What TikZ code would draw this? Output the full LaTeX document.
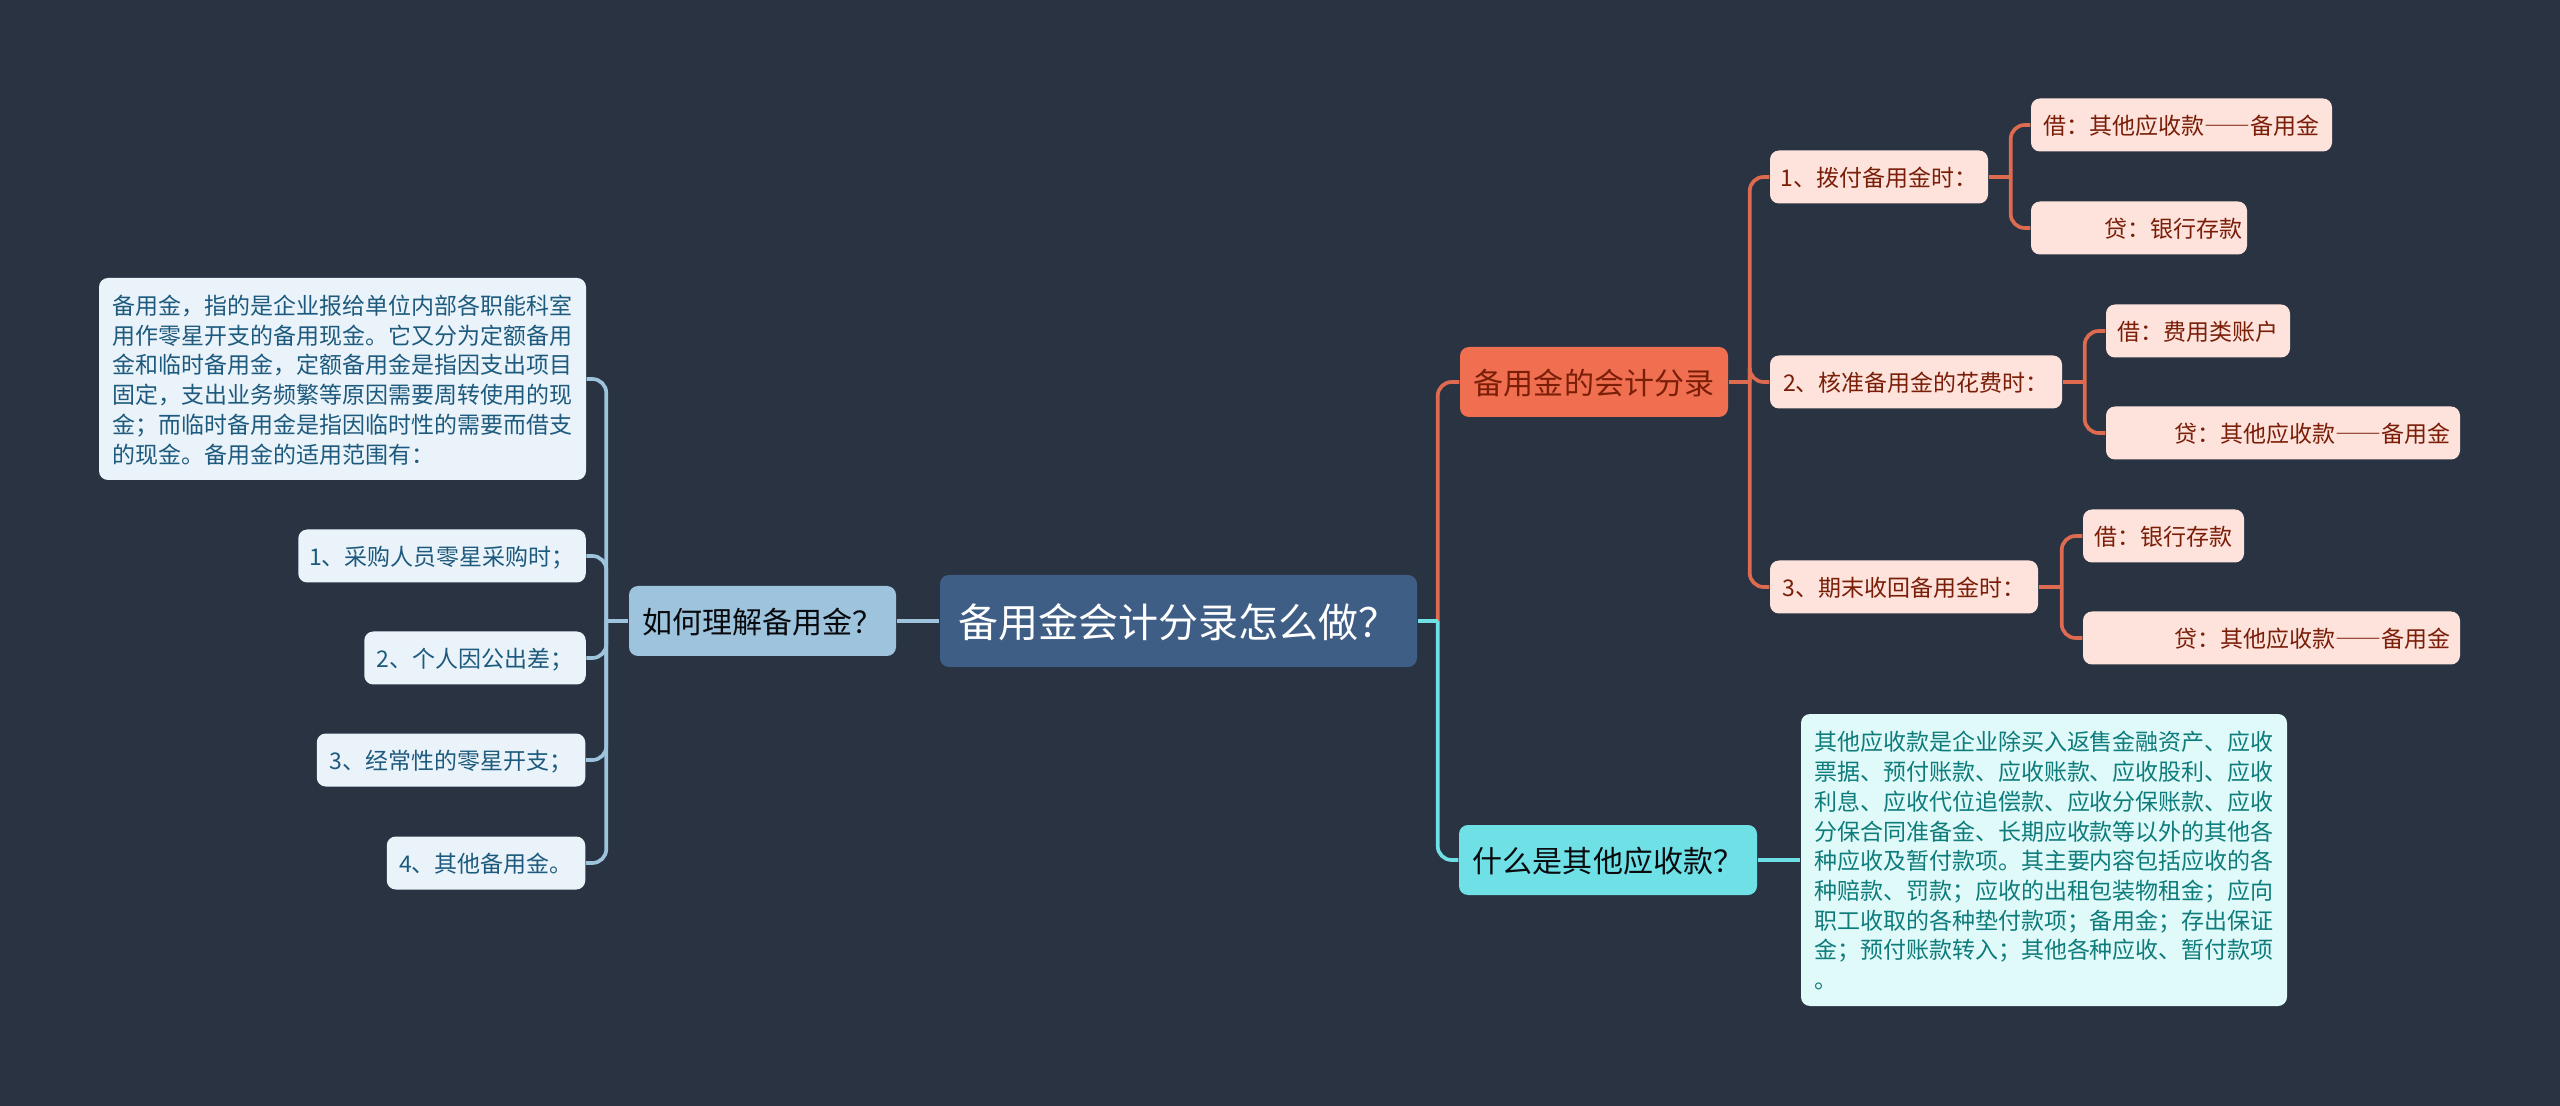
\documentclass[tikz,border=0pt]{standalone}
\usepackage{fontspec}
\setmainfont{Noto Sans CJK SC}
\newcommand{\cndou}{\symbol{"FF0C}}
\newcommand{\cnfen}{\symbol{"FF1B}}
\newcommand{\cnmao}{\symbol{"FF1A}}
\newcommand{\cnwen}{\symbol{"FF1F}}
\newcommand{\cndash}{{\addfontfeature{RawFeature=+fwid}——}}
\definecolor{bgdark}{HTML}{2A3342}
\definecolor{rootfill}{HTML}{3F5E85}
\definecolor{bluehead}{HTML}{9DC3DD}
\definecolor{blueleaf}{HTML}{EAF3F9}
\definecolor{bluetext}{HTML}{1D5A7E}
\definecolor{redhead}{HTML}{F06F50}
\definecolor{redleaf}{HTML}{FDE3DC}
\definecolor{redtext}{HTML}{7A1E08}
\definecolor{redline}{HTML}{DE6A50}
\definecolor{cyanhead}{HTML}{6EE0E6}
\definecolor{cyanleaf}{HTML}{E0F9F9}
\definecolor{cyantext}{HTML}{0F7C7C}
\tikzset{
	box/.style={rounded corners=0.09cm, inner sep=0pt, text depth=0pt},
	rootbox/.style={box, fill=rootfill, text=white, minimum width=4.77cm, minimum height=0.92cm, font=\fontsize{11.38}{14}\selectfont},
	headbox/.style={box, minimum height=0.70cm, font=\fontsize{8.54}{11}\selectfont},
	leafbox/.style={box, minimum height=0.53cm, font=\fontsize{6.54}{8.45}\selectfont},
	blueleafbox/.style={leafbox, fill=blueleaf, text=bluetext},
	redleafbox/.style={leafbox, fill=redleaf, text=redtext},
	link/.style={line width=1.05pt, rounded corners=0.14cm},
}
\begin{document}
\begin{tikzpicture}
	\useasboundingbox (0, 0) rectangle (25.6, 11.05);
	\fill[bgdark] (-0.1, -0.1) rectangle (25.7, 11.15);

	\node[rootbox] (root) at (11.785, 4.84) {备用金会计分录怎么做\cnwen};

	% left side
	\node[headbox, fill=bluehead, text=black!80!bgdark, minimum width=2.67cm] (lijie) at (7.625, 4.84) {如何理解备用金\cnwen};
	\node[blueleafbox, minimum width=4.87cm, minimum height=2.02cm, align=left] (dingyi) at (3.425, 7.26) {备用金\cndou{}指的是企业报给单位内部各职能科室\\用作零星开支的备用现金。它又分为定额备用\\金和临时备用金\cndou{}定额备用金是指因支出项目\\固定\cndou{}支出业务频繁等原因需要周转使用的现\\金\cnfen{}而临时备用金是指因临时性的需要而借支\\的现金。备用金的适用范围有\cnmao};
	\node[blueleafbox, minimum width=2.875cm] (caigou) at (4.42, 5.49) {1、采购人员零星采购时\cnfen};
	\node[blueleafbox, minimum width=2.215cm] (chuchai) at (4.75, 4.47) {2、个人因公出差\cnfen};
	\node[blueleafbox, minimum width=2.685cm] (kaizhi) at (4.51, 3.45) {3、经常性的零星开支\cnfen};
	\node[blueleafbox, minimum width=1.985cm] (qita) at (4.86, 2.42) {4、其他备用金。};

	% right side, upper branch
	\node[headbox, fill=redhead, text=redtext, minimum width=2.68cm] (fenlu) at (15.94, 7.23) {备用金的会计分录};
	\node[redleafbox, minimum width=2.18cm] (bofu) at (18.79, 9.28) {1、拨付备用金时\cnmao};
	\node[redleafbox, minimum width=3.01cm] (bofujie) at (21.815, 9.80) {借\cnmao{}其他应收款\cndash{}备用金};
	\node[redleafbox, text width=2.06cm, minimum width=2.16cm, align=right] (bofudai) at (21.39, 8.77) {贷\cnmao{}银行存款};
	\node[redleafbox, minimum width=2.92cm] (hezhun) at (19.16, 7.23) {2、核准备用金的花费时\cnmao};
	\node[redleafbox, minimum width=1.84cm] (hezhunjie) at (21.98, 7.74) {借\cnmao{}费用类账户};
	\node[redleafbox, text width=3.34cm, minimum width=3.54cm, align=right] (hezhundai) at (22.83, 6.72) {贷\cnmao{}其他应收款\cndash{}备用金};
	\node[redleafbox, minimum width=2.68cm] (shouhui) at (19.04, 5.18) {3、期末收回备用金时\cnmao};
	\node[redleafbox, minimum width=1.61cm] (shouhuijie) at (21.635, 5.69) {借\cnmao{}银行存款};
	\node[redleafbox, text width=3.57cm, minimum width=3.77cm, align=right] (shouhuidai) at (22.715, 4.67) {贷\cnmao{}其他应收款\cndash{}备用金};

	% right side, lower branch
	\node[headbox, fill=cyanhead, text=black!80!bgdark, minimum width=2.98cm] (yingshou) at (16.08, 2.45) {什么是其他应收款\cnwen};
	\node[leafbox, fill=cyanleaf, text=cyantext, minimum width=4.86cm, minimum height=2.92cm, align=left] (shuoming) at (20.44, 2.45) {其他应收款是企业除买入返售金融资产、应收\\票据、预付账款、应收账款、应收股利、应收\\利息、应收代位追偿款、应收分保账款、应收\\分保合同准备金、长期应收款等以外的其他各\\种应收及暂付款项。其主要内容包括应收的各\\种赔款、罚款\cnfen{}应收的出租包装物租金\cnfen{}应向\\职工收取的各种垫付款项\cnfen{}备用金\cnfen{}存出保证\\金\cnfen{}预付账款转入\cnfen{}其他各种应收、暂付款项\\。};

	\coordinate (lijietrunk) at ([xshift=-0.22cm]lijie.west);
	\coordinate (roottrunk) at ([xshift=0.20cm]root.east);
	\coordinate (fenlutrunk) at ([xshift=0.21cm]fenlu.east);
	\coordinate (bofutrunk) at ([xshift=0.22cm]bofu.east);
	\coordinate (hezhuntrunk) at ([xshift=0.22cm]hezhun.east);
	\coordinate (shouhuitrunk) at ([xshift=0.23cm]shouhui.east);

	\draw[link, bluehead] (root.west) -- (lijie.east);
	\draw[link, bluehead] (lijie.west) -- (lijietrunk);
	\foreach \kid in {dingyi, caigou, chuchai, kaizhi, qita}
		\draw[link, bluehead] (lijietrunk) |- (\kid.east);

	\draw[link, redline] (roottrunk) |- (fenlu.west);
	\draw[link, cyanhead] (root.east) -- (roottrunk);
	\draw[link, cyanhead] (roottrunk) |- (yingshou.west);
	\draw[link, cyanhead] (yingshou.east) -- (shuoming.west);

	\draw[link, redline] (fenlu.east) -- (fenlutrunk);
	\foreach \kid in {bofu, hezhun, shouhui}
		\draw[link, redline] (fenlutrunk) |- (\kid.west);

	\draw[link, redline] (bofu.east) -- (bofutrunk);
	\draw[link, redline] (bofutrunk) |- (bofujie.west);
	\draw[link, redline] (bofutrunk) |- (bofudai.west);
	\draw[link, redline] (hezhun.east) -- (hezhuntrunk);
	\draw[link, redline] (hezhuntrunk) |- (hezhunjie.west);
	\draw[link, redline] (hezhuntrunk) |- (hezhundai.west);
	\draw[link, redline] (shouhui.east) -- (shouhuitrunk);
	\draw[link, redline] (shouhuitrunk) |- (shouhuijie.west);
	\draw[link, redline] (shouhuitrunk) |- (shouhuidai.west);
\end{tikzpicture}
\end{document}
